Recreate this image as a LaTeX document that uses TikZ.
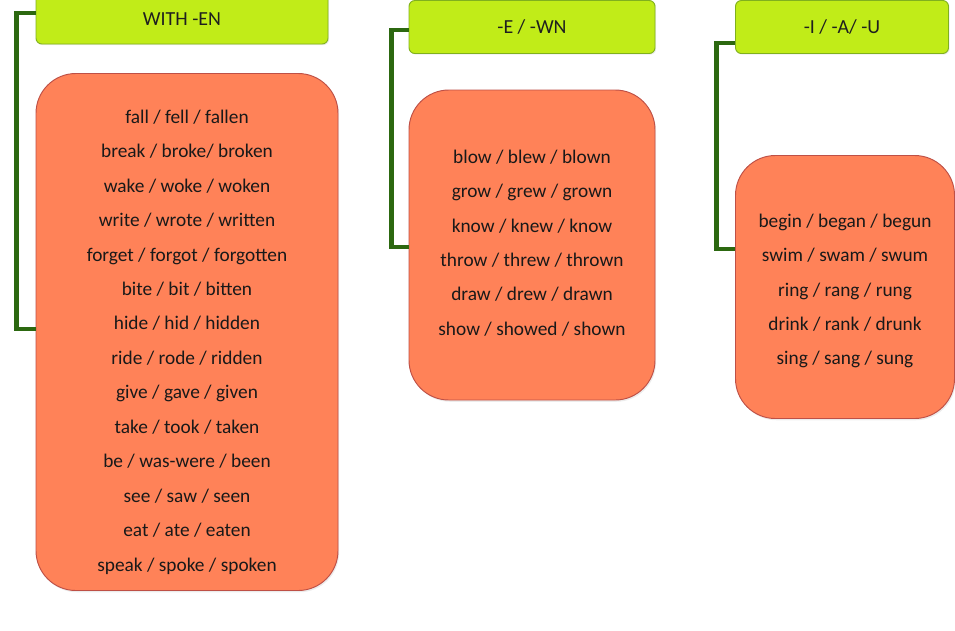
\documentclass[tikz,border=0pt]{standalone}
\usepackage{fontspec}
\setmainfont{Carlito}
\usetikzlibrary{positioning, shadows}
\definecolor{limegreen}{RGB}{193, 236, 24}
\definecolor{limeedge}{RGB}{128, 176, 30}
\definecolor{salmon}{RGB}{255, 130, 88}
\definecolor{salmonedge}{RGB}{190, 80, 70}
\definecolor{darkbranch}{RGB}{44, 104, 16}

\tikzset{
  header/.style={draw=limeedge, fill=limegreen, rounded corners=5, line width=0.8pt,
    drop shadow={opacity=0.15, shadow xshift=1pt, shadow yshift=-1pt},
    font=\fontsize{17}{20}\selectfont, text=black!88},
  verbbox/.style={draw=salmonedge, fill=salmon, rounded corners=34, line width=0.8pt,
    drop shadow={opacity=0.15, shadow xshift=1pt, shadow yshift=-1.5pt}},
  verblist/.style={align=center, font=\fontsize{16.5}{29.4}\selectfont, text=black!90},
  branch/.style={darkbranch, line width=4.2pt}
}

\begin{document}
\begin{tikzpicture}[x=0.03cm, y=-0.03cm]
    \useasboundingbox (0,0) rectangle (955,630);

    % column one
    \node[header, minimum width=292*0.03cm, minimum height=50*0.03cm] (hdrEn) at (182,19) {WITH -EN};
    \node[verbbox, minimum width=302*0.03cm, minimum height=517*0.03cm] (verbsEn) at (187,332) {};
    \node[verblist] (listEn) at (187,342)
        {fall / fell / fallen\\ break / broke/ broken\\ wake / woke / woken\\ write / wrote / written\\
         forget / forgot / forgotten\\ bite / bit / bitten\\ hide / hid / hidden\\ ride / rode / ridden\\
         give / gave / given\\ take / took / taken\\ be / was-were / been\\ see / saw / seen\\
         eat / ate / eaten\\ speak / spoke / spoken};

    % column two
    \node[header, minimum width=246*0.03cm, minimum height=53*0.03cm] (hdrWn) at (532,27) {-E / -WN};
    \node[verbbox, minimum width=246*0.03cm, minimum height=310*0.03cm] (verbsWn) at (532,245) {};
    \node[verblist] (listWn) at (532,243)
        {blow / blew / blown\\ grow / grew / grown\\ know / knew / know\\ throw / threw / thrown\\
         draw / drew / drawn\\ show / showed / shown};

    % column three
    \node[header, minimum width=213*0.03cm, minimum height=53*0.03cm] (hdrIau) at (842,27) {-I / -A/ -U};
    \node[verbbox, minimum width=219*0.03cm, minimum height=263*0.03cm] (verbsIau) at (845,287) {};
    \node[verblist] (listIau) at (845,291)
        {begin / began / begun\\ swim / swam / swum\\ ring / rang / rung\\ drink / rank / drunk\\
         sing / sang / sung};

    % branches
    \draw[branch] ([yshift=6*0.03cm]hdrEn.west) -- ++(-19,0) |- ([yshift=3*0.03cm]verbsEn.west);
    \draw[branch] ([yshift=-3*0.03cm]hdrWn.west) -- ++(-17,0) |- ([yshift=-2*0.03cm]verbsWn.west);
    \draw[branch] ([yshift=-16*0.03cm]hdrIau.west) -- ++(-19,0) |- ([yshift=38*0.03cm]verbsIau.west);
\end{tikzpicture}
\end{document}
